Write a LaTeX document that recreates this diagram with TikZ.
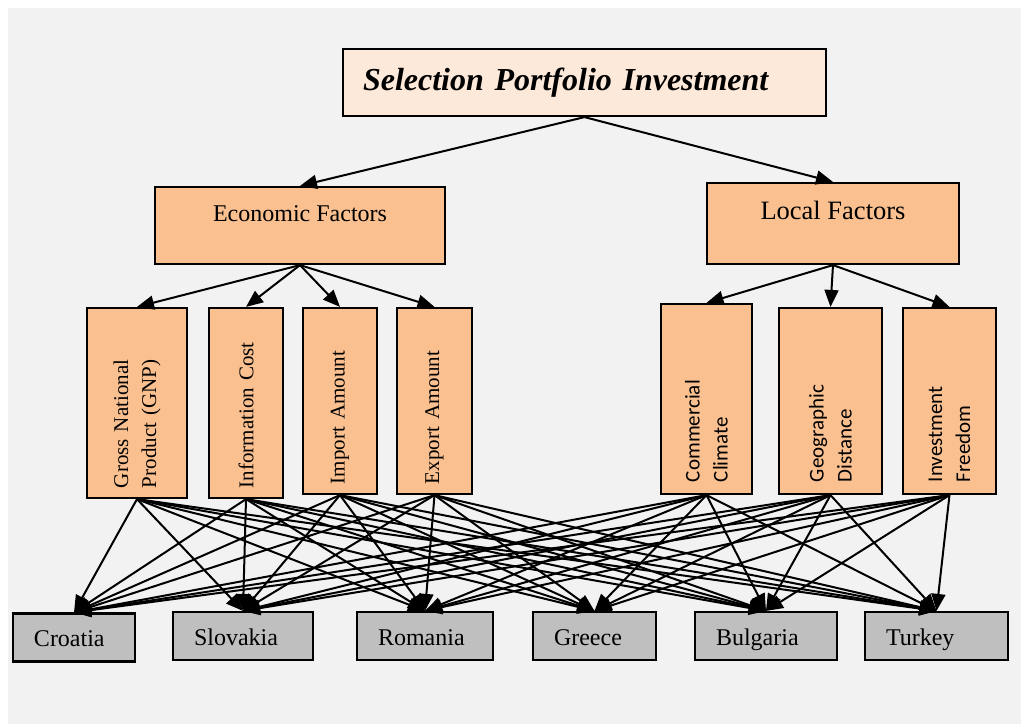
\documentclass[tikz,border=0pt]{standalone}
\usepackage{fontspec}
\setmainfont{Liberation Serif}
\newfontfamily\calfont{Carlito}
\usepackage{tikz}
\usetikzlibrary{arrows.meta}
\definecolor{pagegray}{RGB}{242,242,242}
\definecolor{peach}{RGB}{250,192,144}
\definecolor{lightpeach}{RGB}{253,233,217}
\definecolor{boxgray}{RGB}{191,191,191}

\begin{document}
\begin{tikzpicture}[x=1pt,y=-1pt,
		>={Triangle[length=17pt,width=14pt]},
		box/.style={draw=black,line width=2.2pt,inner sep=0pt},
		factor/.style={box,fill=peach},
		vfactor/.style={factor,rotate=90,align=left,font=\fontsize{21}{28}\selectfont},
		country/.style={box,fill=boxgray,align=left,text height=18pt,text depth=0pt,minimum height=48,font=\fontsize{24}{28}\selectfont},
		link/.style={->,line width=2pt}]
		% rotated boxes: east is the top side, west the bottom side
		\newcommand{\factorBox}[7]{
			\node[vfactor,minimum width=#5,minimum height=#4,text width=#6] (#1) at (#2,#3) {#7};
		}
		\useasboundingbox (0,0) rectangle (1021,724);
		\fill[pagegray] (8,8) rectangle (1021,724);
		
		\node[box,fill=lightpeach,minimum width=483,minimum height=67,text width=443pt,align=left,font=\fontsize{32}{38}\selectfont\bfseries\itshape] (top) at (584.5,82.5) {Selection Portfolio Investment};
		
		\node[factor,minimum width=290,minimum height=77,text height=17pt,text depth=26pt,font=\fontsize{24}{28}\selectfont] (econ) at (300,225.5) {Economic Factors};
		\node[factor,minimum width=252,minimum height=81,text height=19pt,text depth=28pt,font=\fontsize{26.5}{30}\selectfont] (local) at (833,223.5) {Local Factors};
		
		\factorBox{gnp}{137}{403}{100}{190}{170pt}{Gross National\\Product (GNP)}
		\factorBox{info}{246}{403}{74}{190}{170pt}{Information Cost}
		\factorBox{imp}{340}{401}{74}{186}{166pt}{Import Amount}
		\factorBox{exp}{434.5}{401}{75}{186}{166pt}{Export Amount}
		\factorBox{com}{706.5}{399}{91}{190}{166pt}{\calfont Commercial\\\calfont Climate}
		\factorBox{geo}{830.5}{401}{103}{186}{162pt}{\calfont Geographic\\\calfont Distance}
		\factorBox{inv}{949.5}{401}{93}{186}{162pt}{\calfont Investment\\\calfont Freedom}
		
		\foreach \name/\x/\y/\w/\tw/\txt in {cro/74/637.5/122/80/Croatia,slo/243/636/140/98/Slovakia,rom/425/636/136/94/Romania,gre/594.5/636/123/81/Greece,bul/766/636/142/100/Bulgaria,tur/936.5/636/143/101/Turkey}{
			\node[country,minimum width=\w,text width=\tw pt] (\name) at (\x,\y) {\txt};
		}
		
		\draw[link] (top.south) -- (econ.north);
		\draw[link] (top.south) -- (local.north);
		\foreach \f in {gnp,info,imp,exp}
			\draw[link] (econ.south) -- (\f.east);
		\foreach \f in {com,geo,inv}
			\draw[link] (local.south) -- (\f.east);
		\foreach \f in {gnp,info,imp,exp,com,geo,inv}{
			\foreach \c in {cro,slo,rom,gre,bul,tur}{
				\draw[link] (\f.west) -- (\c.north);
			}
		}
	\end{tikzpicture}
\end{document}
